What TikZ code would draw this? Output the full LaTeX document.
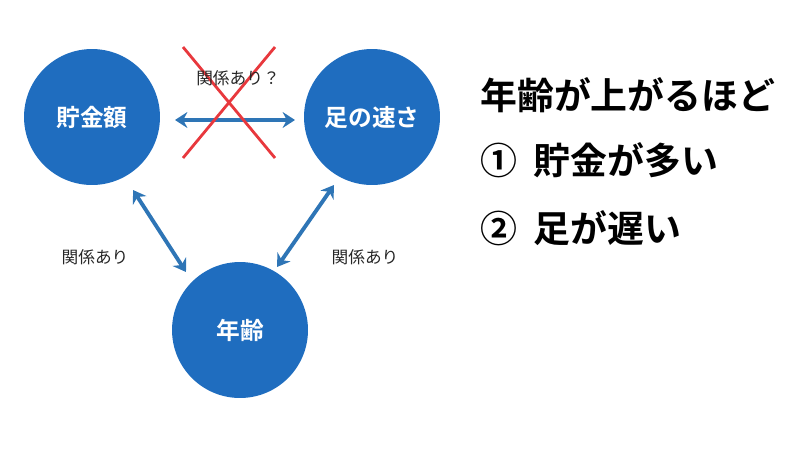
\documentclass[tikz,border=0pt]{standalone}
\usepackage{fontspec}
\setmainfont{Noto Sans CJK JP}
\newfontfamily\jpb{Noto Sans CJK JP Bold}
\usetikzlibrary{arrows.meta}
\definecolor{cblue}{HTML}{1F6DBF}
\definecolor{ablue}{HTML}{2E75B6}
\definecolor{xred}{HTML}{E8383D}
\tikzset{circ/.style={circle,fill=cblue,minimum size=2.72cm,inner sep=0pt,text=white,font=\jpb\fontsize{13.5}{15}\selectfont},
arr/.style={ablue,line width=2.2pt,{Stealth[length=7pt,width=9pt]}-{Stealth[length=7pt,width=9pt]}},
lab/.style={font=\fontsize{9.5}{11}\selectfont,text=black!85},
big/.style={font=\jpb\fontsize{21}{24}\selectfont,anchor=west}}
\begin{document}
\begin{tikzpicture}[x=0.02cm,y=-0.02cm]
\useasboundingbox (0,0) rectangle (800,450);
\node[circ] (a) at (92,117) {貯金額};
\node[circ] (b) at (372,117) {足の速さ};
\node[circ] (c) at (240,330) {年齢};
\coordinate (h1) at (175,120); \coordinate (h2) at (295,120);
\draw[arr] (h1) -- (h2);
\coordinate (d1) at (133,190); \coordinate (d2) at (186,272);
\draw[arr] (d1) -- (d2);
\coordinate (e1) at (334,185); \coordinate (e2) at (277,267);
\draw[arr] (e1) -- (e2);
\coordinate (x1) at (183,47); \coordinate (x2) at (275,158);
\coordinate (x3) at (275,47); \coordinate (x4) at (183,158);
\draw[xred,line width=1.6pt] (x1) -- (x2) (x3) -- (x4);
\node[lab] (l0) at (238,78) {関係あり？};
\node[lab] (l1) at (95,257) {関係あり};
\node[lab] (l2) at (365,257) {関係あり};
\node[big] (t1) at (474,95) {年齢が上がるほど};
\node[big] (t2) at (474,160) {①\hspace{0.45em}貯金が多い};
\node[big] (t3) at (474,228) {②\hspace{0.45em}足が遅い};
\end{tikzpicture}
\end{document}
